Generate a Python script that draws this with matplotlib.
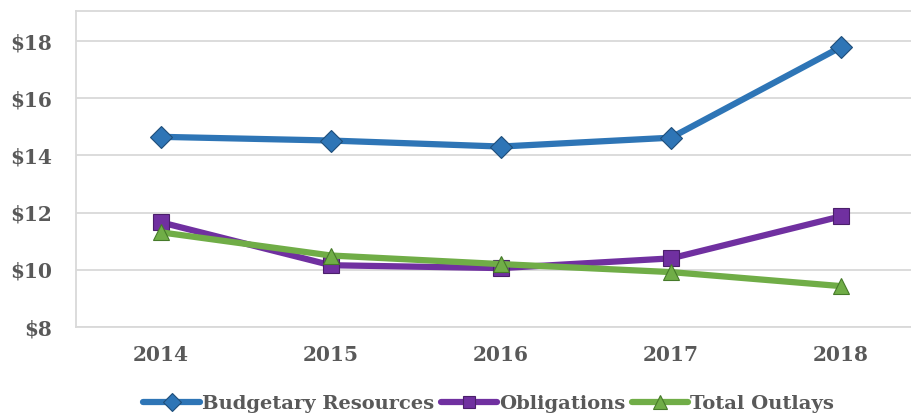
import matplotlib
matplotlib.use('Agg')
import matplotlib.pyplot as plt

# data (billions of dollars)
years = ['2014', '2015', '2016', '2017', '2018']
budgetary = [14.65, 14.52, 14.31, 14.62, 17.79]
obligations = [11.66, 10.16, 10.06, 10.40, 11.87]
outlays = [11.31, 10.50, 10.20, 9.92, 9.43]
yticks = [8, 10, 12, 14, 16, 18]

plt.rcParams['font.family'] = ['DejaVu Serif']
text_color = '#595959'
grid_color = '#d9d9d9'

fig = plt.figure(figsize=(9.12, 4.16), dpi=100)
ax = fig.add_axes([76 / 912, 89 / 416, 850 / 912, 316 / 416])

x = list(range(len(years)))
series = [
    ('Budgetary Resources', budgetary, '#2e75b6', '#1f4e79', 'D', 11),
    ('Obligations', obligations, '#7030a0', '#4b1f6b', 's', 11),
    ('Total Outlays', outlays, '#70ad47', '#467a2a', '^', 12),
]
for name, vals, col, edge, mk, ms in series:
    ax.plot(x, vals, color=col, lw=4.5, marker=mk, markersize=ms,
            markerfacecolor=col, markeredgecolor=edge, markeredgewidth=0.8,
            label=name, solid_capstyle='round')

ax.set_xlim(-0.5, len(years) - 0.5)
ax.set_ylim(8, 19.05)
ax.set_yticks(yticks)
ax.set_yticklabels([f'${v}' for v in yticks])
ax.set_xticks(x)
ax.set_xticklabels(years)
ax.grid(axis='y', color=grid_color, lw=1.3)
ax.set_axisbelow(True)
ax.tick_params(length=0, labelsize=14.5, colors=text_color)
ax.tick_params(axis='y', pad=17)
ax.tick_params(axis='x', pad=13)
for lab in ax.get_xticklabels() + ax.get_yticklabels():
    lab.set_fontweight('bold')
for side in ['left', 'top', 'right', 'bottom']:
    ax.spines[side].set_color(grid_color)
    ax.spines[side].set_linewidth(1.3)

leg = fig.legend(loc='lower center', bbox_to_anchor=(0.536, -0.035), ncol=3,
                 frameon=False, handlelength=2.9, handletextpad=0.1,
                 columnspacing=0.35, markerscale=0.8,
                 prop={'weight': 'bold', 'size': 14})
for t in leg.get_texts():
    t.set_color(text_color)

fig.savefig('out.png', dpi=100)
